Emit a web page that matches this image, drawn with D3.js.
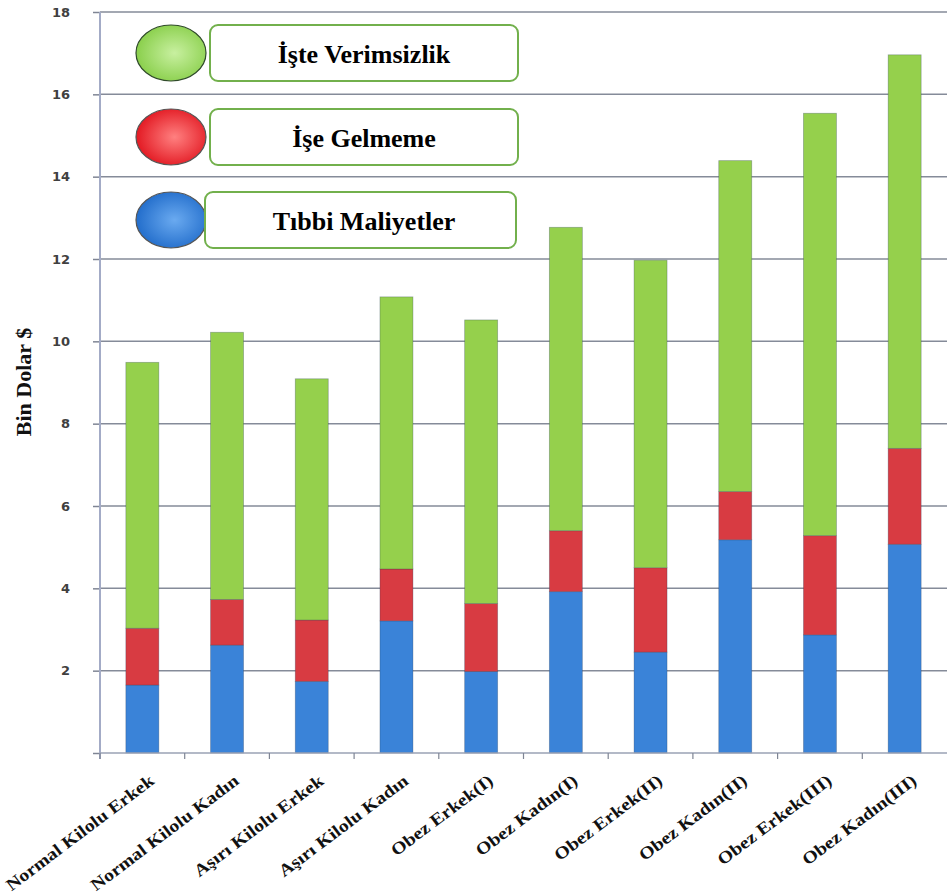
<!DOCTYPE html>
<html>
<head>
<meta charset="utf-8">
<script src="https://cdn.jsdelivr.net/npm/d3@7"></script>
<style>
    body { margin: 0; background: #fff; }
    .ytick text { font-family: "DejaVu Sans", sans-serif; font-weight: bold; font-size: 13px; fill: #404040; }
    .xlabel { font-family: "Liberation Serif", "Times New Roman", serif; font-weight: bold; font-size: 18px; fill: #111; }
    .ytitle { font-family: "Liberation Serif", "Times New Roman", serif; font-weight: bold; font-size: 22px; fill: #111; }
    .legend-label { font-family: "Liberation Serif", "Times New Roman", serif; font-weight: bold; font-size: 26px; fill: #000; }
</style>
</head>
<body>
<div id="my_chart"></div>
<script>
//== DATA ================================================//
var categories = ["Normal Kilolu Erkek", "Normal  Kilolu Kadın", "Aşırı Kilolu Erkek", "Aşırı Kilolu Kadın",
    "Obez Erkek(I)", "Obez Kadın(I)", "Obez Erkek(II)", "Obez Kadın(II)", "Obez Erkek(III)", "Obez Kadın(III)"];

// segment values (bin dolar), bottom to top
var tibbiMaliyetler = [1.65, 2.62, 1.74, 3.21, 1.98, 3.92, 2.45, 5.18, 2.87, 5.07];
var iseGelmeme = [1.38, 1.11, 1.49, 1.26, 1.65, 1.48, 2.05, 1.17, 2.41, 2.33];
var isteVerimsizlik = [6.46, 6.49, 5.86, 6.61, 6.89, 7.37, 7.47, 8.04, 10.26, 9.56];

var seriesKeys = ["Tıbbi Maliyetler", "İşe Gelmeme", "İşte Verimsizlik"];
var yTicks = [0, 2, 4, 6, 8, 10, 12, 14, 16, 18];

// legend, top to bottom
var legendNames = ["İşte Verimsizlik", "İşe Gelmeme", "Tıbbi Maliyetler"];

// Define color scheme.
var colors = ["#3a83d8", "#d83b42", "#95d04c"];
var legendColors = [["#c8f0a0", "#84cc44"], ["#ff8080", "#e0101a"], ["#6aaaf0", "#1c68c8"]];

//== PLOT ================================================//
var W = 947, H = 893;
var margin = { top: 12, right: 0, bottom: 140, left: 100 },
    width = W - margin.left - margin.right,
    height = H - margin.top - margin.bottom;

var svg = d3.select("#my_chart")
    .append("svg")
    .attr("width", W)
    .attr("height", H);

var defs = svg.append("defs");
legendColors.forEach(function (c, i) {
    var g = defs.append("radialGradient")
        .attr("id", "lg" + i)
        .attr("cx", "55%").attr("cy", "50%").attr("r", "60%");
    g.append("stop").attr("offset", "0%").attr("stop-color", c[0]);
    g.append("stop").attr("offset", "100%").attr("stop-color", c[1]);
});

var g = svg.append("g")
    .attr("transform", "translate(" + margin.left + "," + margin.top + ")");

// X scale (bands between tick marks)
var x = d3.scaleBand()
    .domain(categories)
    .range([0, width])
    .padding(0);

// Y scale
var y = d3.scaleLinear()
    .domain([0, 18])
    .range([height, 0]);

// gridlines
g.append("g")
    .selectAll("line")
    .data(yTicks.slice(1))
    .enter().append("line")
    .attr("x1", 0)
    .attr("x2", width)
    .attr("y1", function (d) { return y(d); })
    .attr("y2", function (d) { return y(d); })
    .attr("stroke", "#858b99")
    .attr("stroke-width", 1.5);

// stacked bars
var table = categories.map(function (c, i) {
    var row = { cat: c };
    row[seriesKeys[0]] = tibbiMaliyetler[i];
    row[seriesKeys[1]] = iseGelmeme[i];
    row[seriesKeys[2]] = isteVerimsizlik[i];
    return row;
});
var stacked = d3.stack().keys(seriesKeys)(table);

var barW = 33;
g.append("g")
    .selectAll("g")
    .data(stacked)
    .enter().append("g")
    .attr("fill", function (d, i) { return colors[i]; })
    .selectAll("rect")
    .data(function (d) { return d; })
    .enter().append("rect")
    .attr("x", function (d) { return x(d.data.cat) + x.bandwidth() / 2 - barW / 2; })
    .attr("width", barW)
    .attr("y", function (d) { return y(d[1]); })
    .attr("height", function (d) { return y(d[0]) - y(d[1]); })
    .attr("stroke", "rgba(40,60,90,0.35)")
    .attr("stroke-width", 0.8);

// Y axis
var yAxis = g.append("g")
    .call(d3.axisLeft(y)
        .tickValues(yTicks)
        .tickSize(7)
        .tickPadding(23)
        .tickFormat(function (d) { return d === 0 ? "" : d; }));
yAxis.selectAll(".tick").attr("class", "tick ytick");
yAxis.selectAll(".tick line").attr("stroke", "#7f8594").attr("stroke-width", 1.5);
yAxis.select(".domain").remove();
g.append("line")
    .attr("x1", 0).attr("x2", 0)
    .attr("y1", 0).attr("y2", height + 6)
    .attr("stroke", "#a3abc6")
    .attr("stroke-width", 2);

// X axis baseline + boundary ticks
g.append("line")
    .attr("x1", 0).attr("x2", width)
    .attr("y1", height).attr("y2", height)
    .attr("stroke", "#9aa2b4")
    .attr("stroke-width", 1.5);
g.append("g")
    .selectAll("line")
    .data(categories)
    .enter().append("line")
    .attr("x1", function (d) { return x(d); })
    .attr("x2", function (d) { return x(d); })
    .attr("y1", height)
    .attr("y2", height + 6)
    .attr("stroke", "#7f8594")
    .attr("stroke-width", 1.2);

// X labels
g.append("g")
    .selectAll("text")
    .data(categories)
    .enter().append("text")
    .attr("class", "xlabel")
    .attr("text-anchor", "end")
    .attr("transform", function (d) {
        return "translate(" + (x(d) + x.bandwidth() / 2 + 13) + "," + (height + 30) + ")rotate(-37)scale(1.1,0.95)";
    })
    .text(function (d) { return d; });

// Y axis label
svg.append("text")
    .attr("class", "ytitle")
    .attr("text-anchor", "middle")
    .attr("transform", "translate(31,382)rotate(-90)")
    .text("Bin Dolar $");

// Legend
var legend = svg.append("g");
var legendY = [25, 109, 192];
legendNames.forEach(function (name, i) {
    var cy = legendY[i] + 28;
    legend.append("ellipse")
        .attr("cx", 171).attr("cy", cy)
        .attr("rx", 35).attr("ry", 28)
        .attr("fill", "url(#lg" + i + ")")
        .attr("stroke", i === 0 ? "#2f4a2a" : "#555")
        .attr("stroke-width", 1.2);
    legend.append("rect")
        .attr("x", i === 2 ? 205 : 210)
        .attr("y", legendY[i])
        .attr("width", i === 2 ? 311 : 308)
        .attr("height", 56)
        .attr("rx", 8)
        .attr("fill", "#fff")
        .attr("stroke", "#72b04c")
        .attr("stroke-width", 2);
    legend.append("text")
        .attr("class", "legend-label")
        .attr("text-anchor", "middle")
        .attr("x", 364)
        .attr("y", legendY[i] + 38)
        .text(name);
});
</script>
</body>
</html>
